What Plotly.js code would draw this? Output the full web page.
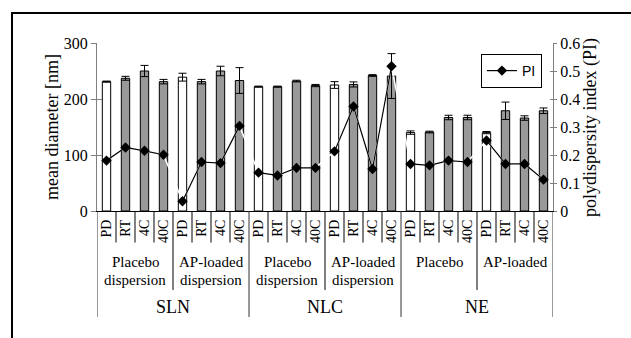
<!DOCTYPE html>
<html>
<head>
<meta charset="utf-8">
<script src="https://cdn.plot.ly/plotly-3.0.1.min.js"></script>
<style>html,body{margin:0;padding:0;background:#fff;}#chart{width:631px;height:338px;}</style>
</head>
<body>
<div id="chart"></div>
<script>
// ---- data ----
var conditions = ['PD','RT','4C','40C','PD','RT','4C','40C','PD','RT','4C','40C','PD','RT','4C','40C','PD','RT','4C','40C','PD','RT','4C','40C'];
var meanDiameter = [231,237,250,231, 239,231,250,233, 222,222,232,224, 225,226,242,241, 140,141,167,167, 140,179,166,179];
var diameterError = [1,3.5,10,4, 7,4,8.5,23, 1,1,1.5,2, 6,4.5,1.5,40, 3,1.5,4,4, 2,15.5,4,5];
var polydispersity = [0.180,0.227,0.215,0.201, 0.035,0.175,0.171,0.304, 0.137,0.127,0.154,0.154, 0.213,0.373,0.150,0.517, 0.168,0.163,0.180,0.175, 0.252,0.168,0.168,0.112];
var subgroupLines1 = ['Placebo','AP-loaded','Placebo','AP-loaded','Placebo','AP-loaded'];
var subgroupLines2 = ['dispersion','dispersion','dispersion','dispersion','',''];
var mainGroups = ['SLN','NLC','NE'];
var yTicks = [0,100,200,300];
var piTicks = [0,0.1,0.2,0.3,0.4,0.5,0.6];

// ---- derived ----
var xIdx = conditions.map(function(_, i){ return i; });
var barColors = conditions.map(function(c){ return c === 'PD' ? '#ffffff' : '#999999'; });
var segX = [], segY = [];
xIdx.forEach(function(i){
  segX.push(i); segY.push(polydispersity[i]);
  if (i % 4 === 3) { segX.push(null); segY.push(null); }
});

var serif = 'Liberation Serif';

var traces = [
  {type:'bar', x:xIdx, y:meanDiameter, marker:{color:barColors, line:{color:'#000', width:1}},
   error_y:{type:'data', array:diameterError, visible:true, color:'#000', thickness:1, width:4},
   showlegend:false, hoverinfo:'skip'},
  {type:'scatter', mode:'lines', x:xIdx, y:polydispersity, yaxis:'y2',
   line:{color:'#ffffff', width:1.5}, showlegend:false, hoverinfo:'skip'},
  {type:'scatter', mode:'lines+markers', name:'PI', x:segX, y:segY, yaxis:'y2',
   line:{color:'#000', width:1.2}, marker:{symbol:'diamond', size:8, color:'#000'},
   connectgaps:false, showlegend:true},
  {type:'scatter', x:[], y:[], yaxis:'y3', showlegend:false},
  {type:'scatter', x:[], y:[], yaxis:'y4', showlegend:false}
];

var shapes = [];
// outer frame
shapes.push({type:'rect', xref:'paper', yref:'paper', x0:-0.1864, x1:1.5, y0:-1.5, y1:1.1786,
  line:{color:'#000', width:2}, fillcolor:'rgba(0,0,0,0)', layer:'below'});
// separators
for (var k = 0; k <= conditions.length; k++) {
  var pos = k - 0.5;
  var bottom, col = '#000';
  if (k % 8 === 0) { bottom = -0.631; col = '#333'; }
  else if (k % 4 === 0) { bottom = -0.470; }
  else { bottom = -0.1875; }
  shapes.push({type:'line', xref:'x', yref:'paper', x0:pos, x1:pos, y0:0, y1:bottom,
    line:{color:col, width:1}});
}

var annotations = [];
subgroupLines1.forEach(function(t, g){
  annotations.push({xref:'x', yref:'paper', x:g*4+1.5, y:-0.3036, text:t, showarrow:false,
    xanchor:'center', yanchor:'middle', font:{family:serif, size:15, color:'#000'}});
  if (subgroupLines2[g]) annotations.push({xref:'x', yref:'paper', x:g*4+1.5, y:-0.4107, text:subgroupLines2[g], showarrow:false,
    xanchor:'center', yanchor:'middle', font:{family:serif, size:15, color:'#000'}});
});
mainGroups.forEach(function(t, g){
  annotations.push({xref:'x', yref:'paper', x:g*8+3.5, y:-0.5714, text:t, showarrow:false,
    xanchor:'center', yanchor:'middle', font:{family:serif, size:18, color:'#000'}});
});
annotations.push({xref:'paper', yref:'paper', x:-0.0987, y:0.5, text:'mean diameter [nm]', textangle:-90,
  showarrow:false, xanchor:'center', yanchor:'middle', font:{family:serif, size:18, color:'#000'}});
annotations.push({xref:'paper', yref:'paper', x:1.081, y:0.5, text:'polydispersity index (PI)', textangle:-90,
  showarrow:false, xanchor:'center', yanchor:'middle', font:{family:serif, size:18, color:'#000'}});

var yBase = {showgrid:false, zeroline:false, showline:true, linecolor:'#808080', linewidth:1,
  ticks:'outside', ticklen:5, tickcolor:'#808080', tickwidth:1,
  tickfont:{family:serif, size:16, color:'#000'}};

var layout = {
  width:631, height:338,
  margin:{l:97, r:78, t:43, b:127, pad:0},
  paper_bgcolor:'#fff', plot_bgcolor:'rgba(0,0,0,0)',
  bargap:0.56,
  showlegend:true,
  legend:{x:0.842, y:0.9345, xanchor:'left', yanchor:'top', bgcolor:'#fff', bordercolor:'#000', borderwidth:1,
    font:{family:'Liberation Sans', size:14, color:'#000'}, itemwidth:30, tracegroupgap:0},
  xaxis:{range:[-0.5, 23.5], tickmode:'array', tickvals:xIdx, ticktext:conditions, tickangle:-90,
    ticks:'', showgrid:false, zeroline:false, showline:true, linecolor:'#000', linewidth:1,
    tickfont:{family:serif, size:14, color:'#000'}, ticklabelstandoff:2},
  yaxis:Object.assign({}, yBase, {range:[0,300], tickmode:'array', tickvals:yTicks}),
  yaxis2:Object.assign({}, yBase, {range:[0,0.6], tickmode:'array', tickvals:piTicks, overlaying:'y', side:'right', ticklen:3}),
  yaxis3:{range:[0,300], tickmode:'array', tickvals:yTicks, overlaying:'y', side:'left', ticks:'inside', ticklen:5,
    tickcolor:'#808080', showticklabels:false, showgrid:false, zeroline:false, showline:false},
  yaxis4:{range:[0,0.6], tickmode:'array', tickvals:piTicks, overlaying:'y', side:'right', ticks:'inside', ticklen:3,
    tickcolor:'#808080', showticklabels:false, showgrid:false, zeroline:false, showline:false},
  shapes:shapes,
  annotations:annotations
};

Plotly.newPlot('chart', traces, layout, {staticPlot:true, displayModeBar:false});
</script>
</body>
</html>
